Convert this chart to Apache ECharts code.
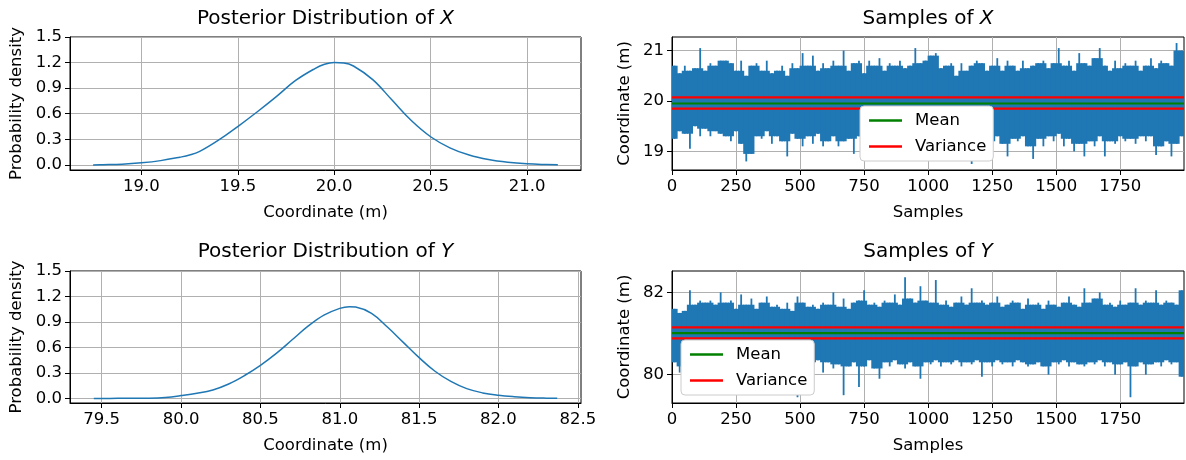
<!DOCTYPE html>
<html>
<head>
<meta charset="utf-8">
<script src="https://cdn.jsdelivr.net/npm/echarts@6/dist/echarts.min.js"></script>
<style>
  html, body { margin: 0; padding: 0; background: #ffffff; }
  #chart { width: 1186px; height: 460px; }
</style>
</head>
<body>
<div id="chart"></div>
<script>
// Posterior density of X
const xDensityCoords = [18.75, 18.8, 18.9, 19.0, 19.1, 19.2, 19.25, 19.3, 19.4, 19.5, 19.6, 19.7, 19.8, 19.9, 19.95,
  20.0, 20.05, 20.1, 20.2, 20.3, 20.4, 20.5, 20.6, 20.7, 20.8, 20.9, 21.0, 21.1, 21.16];
const xDensityValues = [0.0, 0.002, 0.008, 0.024, 0.05, 0.09, 0.115, 0.155, 0.29, 0.45, 0.62, 0.80, 0.99, 1.13, 1.18,
  1.20, 1.195, 1.16, 1.00, 0.76, 0.52, 0.33, 0.20, 0.115, 0.062, 0.03, 0.012, 0.004, 0.002];

// Posterior density of Y
const yDensityCoords = [79.45, 79.6, 79.7, 79.8, 79.9, 80.0, 80.1, 80.2, 80.3, 80.4, 80.5, 80.6, 80.7, 80.8, 80.9,
  81.0, 81.06, 81.1, 81.2, 81.3, 81.4, 81.5, 81.6, 81.7, 81.8, 81.9, 82.0, 82.1, 82.2, 82.3, 82.37];
const yDensityValues = [0.0, 0.0005, 0.001, 0.003, 0.012, 0.033, 0.06, 0.10, 0.17, 0.27, 0.39, 0.53, 0.69, 0.85, 0.98,
  1.06, 1.08, 1.075, 1.0, 0.84, 0.66, 0.48, 0.32, 0.20, 0.115, 0.065, 0.037, 0.02, 0.009, 0.003, 0.001];

// MCMC trace of X: highest and lowest sample in each block of 20 draws
const traceBlock = 20;
const xTraceHigh = [
  20.7, 20.55, 20.7, 20.6, 20.65, 21.05, 20.6, 20.75, 20.7, 20.8,
  20.8, 20.75, 20.6, 20.8, 20.5, 20.7, 20.75, 20.6, 20.8, 20.55,
  20.6, 20.7, 20.5, 20.75, 20.65, 20.95, 20.7, 20.9, 20.6, 20.75,
  20.65, 20.8, 20.7, 21.0, 20.6, 20.75, 20.8, 20.55, 20.8, 20.7,
  20.85, 20.6, 20.75, 20.7, 20.8, 20.65, 20.7, 21.05, 20.75, 20.8,
  20.9, 20.95, 20.65, 20.7, 20.75, 20.5, 20.75, 20.6, 20.7, 20.8,
  20.75, 20.6, 20.7, 20.85, 20.6, 20.8, 20.7, 20.6, 20.8, 20.65,
  20.7, 20.75, 20.8, 20.65, 20.75, 21.05, 20.7, 20.8, 20.6, 20.95,
  20.75, 20.7, 20.85, 21.05, 20.7, 20.6, 20.8, 20.65, 20.75, 20.7,
  20.8, 20.6, 20.7, 20.85, 20.65, 20.8, 20.75, 20.7, 21.15, 21.0];
const xTraceLow = [
  19.25, 19.4, 19.35, 19.05, 19.5, 19.3, 19.45, 19.3, 19.4, 19.35,
  19.3, 19.2, 19.4, 19.15, 18.8, 18.95, 19.3, 19.25, 19.4, 19.15,
  19.3, 19.2, 18.9, 19.35, 19.25, 19.1, 19.3, 19.15, 19.35, 19.1,
  19.2, 19.3, 19.1, 19.2, 19.25, 18.95, 19.3, 19.1, 19.2, 19.3,
  19.15, 19.3, 19.2, 19.35, 19.1, 19.25, 19.3, 19.15, 19.3, 19.2,
  19.25, 19.0, 19.3, 19.2, 19.15, 19.3, 19.2, 19.35, 18.75, 19.25,
  19.3, 19.2, 19.1, 19.3, 19.15, 18.9, 19.25, 19.2, 19.3, 19.1,
  18.85, 19.25, 19.1, 19.3, 19.2, 19.35, 19.1, 19.25, 19.0, 19.15,
  18.9, 19.2, 19.1, 19.3, 18.9, 19.2, 19.15, 19.3, 19.2, 19.25,
  19.15, 19.3, 19.2, 19.3, 18.93, 19.1, 19.2, 18.9, 19.15, 19.3];

// MCMC trace of Y, same blocking
const yTraceHigh = [
  81.6, 81.5, 81.55, 82.05, 81.7, 81.8, 81.75, 81.8, 81.7, 82.0,
  81.75, 81.8, 81.6, 81.95, 81.7, 81.85, 81.6, 81.75, 81.9, 81.65,
  81.7, 81.6, 81.75, 81.55, 81.9, 81.75, 81.65, 81.7, 81.6, 81.75,
  81.7, 82.0, 81.65, 81.85, 81.6, 81.75, 81.8, 82.05, 81.7, 81.75,
  81.65, 81.8, 81.75, 81.95, 81.7, 82.37, 81.85, 81.75, 82.15, 81.8,
  81.75, 82.3, 81.7, 81.8, 81.65, 81.75, 81.9, 81.7, 82.1, 81.75,
  81.8, 81.7, 81.75, 81.9, 81.65, 81.7, 81.8, 81.75, 81.6, 81.85,
  81.7, 81.75, 81.6, 81.8, 81.7, 81.65, 81.75, 81.9, 81.7, 81.65,
  82.1, 81.75, 81.85, 82.0, 81.7, 81.75, 81.65, 81.8, 81.7, 81.75,
  82.1, 81.7, 81.8, 81.75, 82.05, 81.7, 81.8, 81.75, 81.7, 82.05];
const yTraceLow = [
  80.3, 80.05, 80.2, 80.4, 80.3, 80.35, 80.4, 80.3, 80.45, 80.35,
  80.4, 80.3, 80.35, 80.45, 80.3, 80.4, 80.3, 80.35, 80.4, 80.3,
  80.35, 80.25, 80.4, 80.3, 79.45, 80.2, 80.3, 80.25, 80.35, 80.05,
  80.3, 80.15, 80.25, 79.5, 80.2, 80.3, 79.7, 80.2, 80.35, 80.15,
  79.9, 80.3, 80.2, 80.35, 80.25, 80.15, 80.3, 80.2, 79.9, 80.3,
  80.25, 80.35, 80.2, 80.3, 80.25, 80.35, 80.2, 80.3, 80.25, 80.35,
  79.95, 80.3, 80.2, 80.35, 80.25, 80.3, 80.2, 80.35, 80.3, 80.2,
  80.25, 80.3, 80.2, 80.0, 80.3, 80.25, 80.35, 80.2, 80.3, 80.25,
  80.2, 80.3, 80.25, 80.35, 80.2, 80.3, 80.0, 80.25, 80.3, 79.45,
  80.2, 80.3, 80.0, 80.25, 80.3, 80.2, 80.35, 80.25, 80.3, 79.95];

// Summary lines of the traces
const xMean = 19.95;
const xVarianceBounds = [19.847, 20.073];
const yMean = 81.01;
const yVarianceBounds = [80.88, 81.15];
const sampleCount = 1999;

// Tick positions
const densityTicks = [0, 0.3, 0.6, 0.9, 1.2, 1.5];
const xCoordTicks = [19.0, 19.5, 20.0, 20.5, 21.0];
const yCoordTicks = [79.5, 80.0, 80.5, 81.0, 81.5, 82.0, 82.5];
const xTraceTicks = [19, 20, 21];
const yTraceTicks = [80, 82];
const sampleTicks = [0, 250, 500, 750, 1000, 1250, 1500, 1750];

const FONT = 'DejaVu Sans';
const FS = 16.5;
const BLUE = '#1f77b4';
const GRIDC = '#b0b0b0';

function pairs(xs, ys) { return xs.map((x, i) => [x, ys[i]]); }
function blocks(high, low) {
  // [block start, low, high, level reached by the neighbours above, level reached by the neighbours below]
  return high.map((h, i) => {
    const nh = Math.max(high[Math.max(i - 1, 0)], high[Math.min(i + 1, high.length - 1)]);
    const nl = Math.min(low[Math.max(i - 1, 0)], low[Math.min(i + 1, low.length - 1)]);
    return [i * traceBlock, low[i], h, Math.min(h, nh), Math.max(low[i], nl)];
  });
}
function hline(v) { return [[0, v], [sampleCount, v]]; }

// each block: a full-width column where it overlaps its neighbours,
// and a thin spike for the part that sticks out beyond them
function renderBlock(params, api) {
  const x0 = api.value(0);
  const lo = api.value(1), hi = api.value(2), bodyHi = api.value(3), bodyLo = api.value(4);
  const cs = params.coordSys;
  const clip = { x: cs.x, y: cs.y, width: cs.width, height: cs.height };
  const left = api.coord([x0, 0])[0], right = api.coord([x0 + traceBlock, 0])[0];
  const mid = (left + right) / 2;
  const yHi = api.coord([x0, hi])[1], yLo = api.coord([x0, lo])[1];
  const yBodyHi = api.coord([x0, bodyHi])[1], yBodyLo = api.coord([x0, bodyLo])[1];
  const rects = [
    { x: left - 0.5, y: yBodyHi, width: right - left + 1, height: yBodyLo - yBodyHi },
    { x: mid - 0.9, y: yHi, width: 1.8, height: yBodyHi - yHi + 1 },
    { x: mid - 0.9, y: yBodyLo - 1, width: 1.8, height: yLo - yBodyLo + 1 }
  ];
  const children = [];
  rects.forEach(r => {
    if (r.height <= 0) return;
    const s = echarts.graphic.clipRectByRect(r, clip);
    if (s) children.push({ type: 'rect', shape: s, style: { fill: BLUE } });
  });
  return { type: 'group', children };
}

function axis(gridIndex, min, max, ticks, fmt, name, nameGap) {
  return {
    type: 'value', gridIndex, min, max,
    name, nameLocation: 'middle', nameGap,
    nameTextStyle: { fontFamily: FONT, fontSize: FS, color: '#000' },
    axisLine: { show: true, onZero: false, lineStyle: { color: '#000', width: 1 } },
    axisTick: { show: true, inside: false, length: 5, customValues: ticks, lineStyle: { color: '#000', width: 1 } },
    axisLabel: { show: true, customValues: ticks, formatter: fmt, margin: 8,
      fontFamily: FONT, fontSize: FS, color: '#000' },
    splitLine: { show: true, lineStyle: { color: GRIDC, width: 1 } },
    minorTick: { show: false }
  };
}
const f1 = v => Number(v).toFixed(1);
const f0 = v => String(Math.round(v));

const grids = [
  { left: 70, top: 37, width: 511, height: 133 },
  { left: 672, top: 37, width: 512, height: 133 },
  { left: 70, top: 271, width: 511, height: 132 },
  { left: 672, top: 271, width: 512, height: 132 }
].map(g => Object.assign(g, { show: true, borderColor: '#000', borderWidth: 1, backgroundColor: 'transparent' }));

function title(text, cx, top) {
  return {
    text, left: cx, top, textAlign: 'center', padding: 0,
    textStyle: {
      fontFamily: FONT, fontSize: 20, fontWeight: 'normal', color: '#000',
      rich: { i: { fontFamily: FONT, fontSize: 20, fontStyle: 'italic', color: '#000' } }
    }
  };
}

function legend(left, top) {
  return {
    left, top, orient: 'vertical', icon: 'rect', itemWidth: 33, itemHeight: 2.5, itemGap: 9,
    data: ['Mean', 'Variance'],
    textStyle: { fontFamily: FONT, fontSize: FS, color: '#000', padding: [0, 0, 0, 8] },
    backgroundColor: '#ffffff', borderColor: '#cccccc', borderWidth: 1, borderRadius: 4,
    padding: [6, 7, 6, 9], selectedMode: false
  };
}

const option = {
  animation: false,
  backgroundColor: '#ffffff',
  title: [
    title('Posterior Distribution of {i|X}', 70 + 511 / 2, 9),
    title('Samples of {i|X}', 672 + 512 / 2, 9),
    title('Posterior Distribution of {i|Y}', 70 + 511 / 2, 242),
    title('Samples of {i|Y}', 672 + 512 / 2, 242)
  ],
  legend: [legend(860, 106), legend(681, 340)],
  grid: grids,
  xAxis: [
    axis(0, 18.63, 21.28, xCoordTicks, f1, 'Coordinate (m)', 34),
    axis(1, 0, sampleCount, sampleTicks, f0, 'Samples', 34),
    axis(2, 79.30, 82.52, yCoordTicks, f1, 'Coordinate (m)', 34),
    axis(3, 0, sampleCount, sampleTicks, f0, 'Samples', 34)
  ],
  yAxis: [
    axis(0, -0.06, 1.5, densityTicks, f1, 'Probability density', 45),
    axis(1, 18.63, 21.27, xTraceTicks, f0, 'Coordinate (m)', 39),
    axis(2, -0.054, 1.5, densityTicks, f1, 'Probability density', 45),
    axis(3, 79.31, 82.52, yTraceTicks, f0, 'Coordinate (m)', 39)
  ],
  series: [
    { type: 'line', xAxisIndex: 0, yAxisIndex: 0, data: pairs(xDensityCoords, xDensityValues),
      showSymbol: false, smooth: 0.4, lineStyle: { color: BLUE, width: 1.5 } },
    { type: 'line', xAxisIndex: 2, yAxisIndex: 2, data: pairs(yDensityCoords, yDensityValues),
      showSymbol: false, smooth: 0.4, lineStyle: { color: BLUE, width: 1.5 } },

    { type: 'custom', name: 'X trace', xAxisIndex: 1, yAxisIndex: 1, data: blocks(xTraceHigh, xTraceLow),
      renderItem: renderBlock, encode: { x: 0, y: [1, 2] } },
    { type: 'line', name: 'Mean', xAxisIndex: 1, yAxisIndex: 1, data: hline(xMean),
      showSymbol: false, color: '#008000', lineStyle: { color: '#008000', width: 2.2 } },
    { type: 'line', name: 'Variance', xAxisIndex: 1, yAxisIndex: 1, data: hline(xVarianceBounds[0]),
      showSymbol: false, color: '#ff0000', lineStyle: { color: '#ff0000', width: 2.2 } },
    { type: 'line', name: 'Variance', xAxisIndex: 1, yAxisIndex: 1, data: hline(xVarianceBounds[1]),
      showSymbol: false, color: '#ff0000', lineStyle: { color: '#ff0000', width: 2.2 } },

    { type: 'custom', name: 'Y trace', xAxisIndex: 3, yAxisIndex: 3, data: blocks(yTraceHigh, yTraceLow),
      renderItem: renderBlock, encode: { x: 0, y: [1, 2] } },
    { type: 'line', name: 'Mean', xAxisIndex: 3, yAxisIndex: 3, data: hline(yMean),
      showSymbol: false, color: '#008000', lineStyle: { color: '#008000', width: 2.2 } },
    { type: 'line', name: 'Variance', xAxisIndex: 3, yAxisIndex: 3, data: hline(yVarianceBounds[0]),
      showSymbol: false, color: '#ff0000', lineStyle: { color: '#ff0000', width: 2.2 } },
    { type: 'line', name: 'Variance', xAxisIndex: 3, yAxisIndex: 3, data: hline(yVarianceBounds[1]),
      showSymbol: false, color: '#ff0000', lineStyle: { color: '#ff0000', width: 2.2 } }
  ]
};

const chart = echarts.init(document.getElementById('chart'), null, { renderer: 'canvas' });
chart.setOption(option);
</script>
</body>
</html>
